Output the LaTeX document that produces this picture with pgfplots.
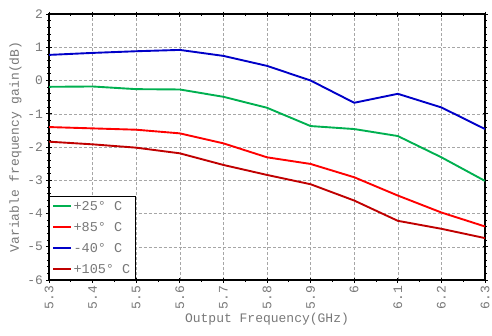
\documentclass[border=0pt]{standalone}
\usepackage{pgfplots}
\pgfplotsset{compat=1.18}
\usepackage{fontspec}
\setmainfont{Liberation Mono}
\definecolor{cgreen}{RGB}{0,176,80}
\definecolor{cred}{RGB}{255,0,0}
\definecolor{cblue}{RGB}{0,0,200}
\definecolor{cdred}{RGB}{192,0,0}
\definecolor{tgray}{RGB}{120,120,120}
\begin{document}
\begin{tikzpicture}
\useasboundingbox (-49bp,-56bp) rectangle (443bp,280bp);
\begin{axis}[
  scale only axis,
  width=436bp, height=266bp,
  xmin=5.3, xmax=6.3, ymin=-6, ymax=2,
  xtick={5.3,5.4,5.5,5.6,5.7,5.8,5.9,6.0,6.1,6.2,6.3},
  xticklabels={5.3,5.4,5.5,5.6,5.7,5.8,5.9,6,6.1,6.2,6.3},
  ytick={-6,-5,...,2},
  minor y tick num=4,
  minor x tick num=1,
  grid=major,
  major grid style={gray!70, densely dashed, line width=0.4pt},
  tick align=center,
  major tick length=5bp, minor tick length=3bp,
  tick style={black, line width=0.8pt},
  axis line style={black, line width=1.1pt},
  /pgf/number format/assume math mode=true,
  ticklabel style={font=\fontsize{13bp}{15bp}\selectfont, text=tgray},
  xticklabel style={rotate=90, anchor=east},
  xlabel={Output Frequency(GHz)},
  ylabel={Variable frequency gain(dB)},
  label style={font=\fontsize{13bp}{15bp}\selectfont, text=tgray},
  xlabel style={yshift=3bp},
  ylabel style={yshift=-1bp},
  legend cell align=left,
  legend style={at={(0,0)}, anchor=south west, draw=black, line width=0.8pt,
    font=\fontsize{13.5bp}{15bp}\selectfont, text=tgray, inner sep=3bp,
    row sep=6.5bp},
  legend image post style={line width=2.2pt},
]
\addplot[cgreen, line width=1.9pt] coordinates {
(5.3,-0.19) (5.4,-0.18) (5.5,-0.26) (5.6,-0.27) (5.7,-0.49) (5.8,-0.82)
(5.9,-1.37) (6.0,-1.46) (6.1,-1.67) (6.2,-2.31) (6.3,-3.02)};
\addlegendentry{+25° C}
\addplot[cred, line width=1.9pt] coordinates {
(5.3,-1.40) (5.4,-1.44) (5.5,-1.48) (5.6,-1.59) (5.7,-1.89) (5.8,-2.31)
(5.9,-2.51) (6.0,-2.91) (6.1,-3.46) (6.2,-3.97) (6.3,-4.39)};
\addlegendentry{+85° C}
\addplot[cblue, line width=1.9pt] coordinates {
(5.3,0.77) (5.4,0.83) (5.5,0.88) (5.6,0.92) (5.7,0.74) (5.8,0.44)
(5.9,0.0) (6.0,-0.67) (6.1,-0.40) (6.2,-0.81) (6.3,-1.46)};
\addlegendentry{-40° C}
\addplot[cdred, line width=1.9pt] coordinates {
(5.3,-1.84) (5.4,-1.92) (5.5,-2.02) (5.6,-2.19) (5.7,-2.54) (5.8,-2.84)
(5.9,-3.12) (6.0,-3.61) (6.1,-4.22) (6.2,-4.46) (6.3,-4.74)};
\addlegendentry{+105° C}
\end{axis}
\end{tikzpicture}
\end{document}
